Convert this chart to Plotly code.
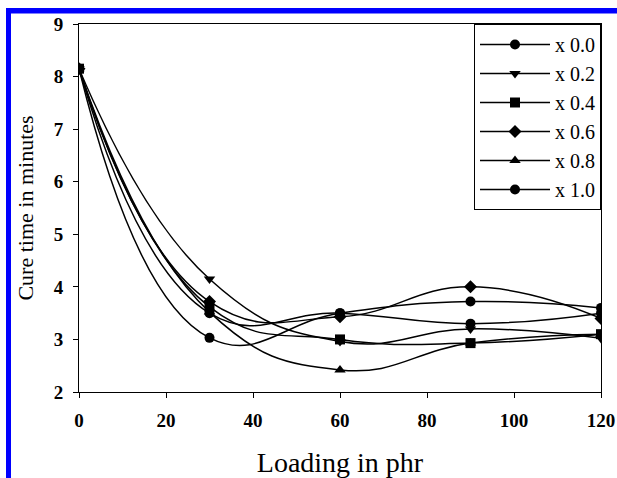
import plotly.graph_objects as go

loading = [0, 30, 60, 90, 120]
series_names = ["x 0.0", "x 0.2", "x 0.4", "x 0.6", "x 0.8", "x 1.0"]
x00 = [8.15, 3.5, 3.5, 3.3, 3.5]
x02 = [8.15, 4.15, 2.96, 3.2, 3.02]
x04 = [8.15, 3.62, 3.0, 2.93, 3.1]
x06 = [8.15, 3.72, 3.43, 4.0, 3.4]
x08 = [8.15, 3.52, 2.42, 2.93, 3.1]
x10 = [8.15, 3.03, 3.5, 3.72, 3.6]
series_values = [x00, x02, x04, x06, x08, x10]
symbols = ["circle", "triangle-down", "square", "diamond", "triangle-up", "circle"]
y_ticks = [2, 3, 4, 5, 6, 7, 8, 9]
x_ticks = [0, 20, 40, 60, 80, 100, 120]

FONT = "Liberation Serif"
W, H = 617, 478
L, R, T, B = 79, 16, 24, 86  # plot area 79..601, 24..392

fig = go.Figure()
for name, vals, sym in zip(series_names, series_values, symbols):
    fig.add_trace(go.Scatter(
        x=loading, y=vals, name=name, mode="lines+markers",
        line=dict(color="black", width=1.5, shape="spline", smoothing=1.3),
        marker=dict(symbol=sym, size=10, color="black"),
    ))

pw = W - L - R
ph = H - T - B
def px2x(px):
    return (px - L) / pw
def py2y(py):
    return (H - B - py) / ph

shapes = [
    dict(type="rect", xref="paper", yref="paper",
         x0=px2x(6), x1=px2x(11), y0=py2y(480), y1=py2y(8),
         fillcolor="#0000ff", line=dict(width=0), layer="above"),
    dict(type="rect", xref="paper", yref="paper",
         x0=px2x(6), x1=px2x(620), y0=py2y(13.5), y1=py2y(8),
         fillcolor="#0000ff", line=dict(width=0), layer="above"),
]

fig.update_layout(
    width=W, height=H,
    margin=dict(l=L, r=R, t=T, b=B, autoexpand=False),
    paper_bgcolor="white", plot_bgcolor="white",
    font=dict(family=FONT, color="black"),
    showlegend=True,
    legend=dict(
        x=1, y=1, xanchor="right", yanchor="top",
        bordercolor="black", borderwidth=1, bgcolor="white",
        font=dict(family=FONT, size=20, color="black"),
        itemwidth=70, tracegroupgap=0,
    ),
    shapes=shapes,
)
fig.update_xaxes(
    range=[0, 120], tickvals=x_ticks, ticktext=[str(v) for v in x_ticks],
    showgrid=False, zeroline=False,
    showline=True, linecolor="black", linewidth=1, mirror=True,
    ticks="outside", ticklen=5, tickcolor="black", ticklabelstandoff=6,
    tickfont=dict(family=FONT, size=19, weight="bold"),
    title=dict(text="Loading in phr", font=dict(family=FONT, size=28), standoff=23),
    automargin=False,
)
fig.update_yaxes(
    range=[2, 9], tickvals=y_ticks, ticktext=[str(v) for v in y_ticks],
    showgrid=False, zeroline=False,
    showline=True, linecolor="black", linewidth=1, mirror=True,
    ticks="outside", ticklen=5, tickcolor="black", ticklabelstandoff=6,
    tickfont=dict(family=FONT, size=19, weight="bold"),
    title=dict(text="Cure time in minutes", font=dict(family=FONT, size=22), standoff=14),
    automargin=False,
)

fig.write_html("out.html")
